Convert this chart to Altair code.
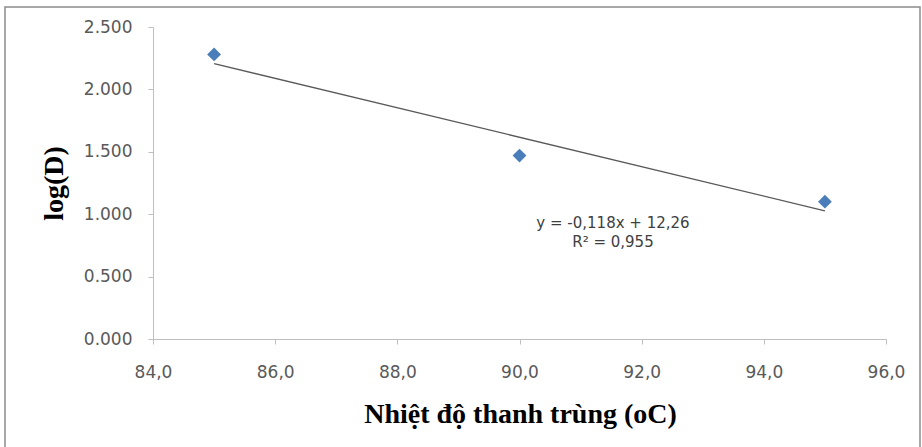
import altair as alt
import pandas as pd

temps = [85.0, 90.0, 95.0]
logd = [2.28, 1.47, 1.10]
eq_text = ["y = -0,118x + 12,26", "R² = 0,955"]
eq_x = [91.53, 91.53]
eq_y = [0.93, 0.775]

df = pd.DataFrame({"t": temps, "d": logd})
ann = pd.DataFrame({"x": eq_x, "y": eq_y, "label": eq_text})

xs = alt.Scale(domain=[84, 96], nice=False, zero=False)
ys = alt.Scale(domain=[0, 2.5], nice=False)

x_axis = alt.Axis(
    title="Nhiệt độ thanh trùng (oC)",
    values=[84, 86, 88, 90, 92, 94, 96],
    labelExpr="replace(format(datum.value, '.1f'), '.', ',')",
    labelFlush=False, labelOverlap=False,
    grid=False, domainColor="#bfbfbf", tickColor="#bfbfbf", tickSize=5,
    labelColor="#595959", labelFont="DejaVu Sans", labelFontSize=17, labelPadding=20,
    titleFont="Liberation Serif", titleFontSize=28, titleFontWeight="bold",
    titleColor="#000000", titleX=367, titleY=83, titleBaseline="alphabetic", titleAlign="center",
)
y_axis = alt.Axis(
    title="log(D)",
    values=[0, 0.5, 1.0, 1.5, 2.0, 2.5], format=".3f",
    labelFlush=False, labelOverlap=False,
    grid=False, domainColor="#bfbfbf", tickColor="#bfbfbf", tickSize=5,
    labelColor="#595959", labelFont="DejaVu Sans", labelFontSize=17, labelPadding=16,
    titleFont="Liberation Serif", titleFontSize=28, titleFontWeight="bold",
    titleColor="#000000", titleAngle=-90, titleX=-91, titleY=156,
    titleBaseline="alphabetic", titleAlign="center",
)

base = alt.Chart(df)

trend = base.transform_regression("t", "d").mark_line(
    color="#595959", strokeWidth=1.3
).encode(x=alt.X("t:Q", scale=xs, axis=x_axis), y=alt.Y("d:Q", scale=ys, axis=y_axis))

pts = base.mark_point(
    shape="diamond", filled=True, size=190, color="#4a7ebb", opacity=1
).encode(x=alt.X("t:Q", scale=xs), y=alt.Y("d:Q", scale=ys))

txt = alt.Chart(ann).mark_text(
    font="DejaVu Sans", fontSize=15, color="#404040", align="center", baseline="middle"
).encode(x=alt.X("x:Q", scale=xs), y=alt.Y("y:Q", scale=ys), text="label:N")

frame = alt.Chart(pd.DataFrame({"a": [0]})).mark_rect(
    fill=None, stroke="#8c8c8c", strokeWidth=1.5
).encode(x=alt.value(-148), x2=alt.value(767), y=alt.value(-20), y2=alt.value(440))

chart = alt.layer(frame, trend, pts, txt).properties(
    width=733, height=312,
    autosize=alt.AutoSizeParams(type="none"),
    padding={"left": 153, "top": 27, "right": 36, "bottom": 108},
    background="white",
).configure_view(stroke=None)

chart.save("out.html", embed_options={"renderer": "svg", "actions": False})
